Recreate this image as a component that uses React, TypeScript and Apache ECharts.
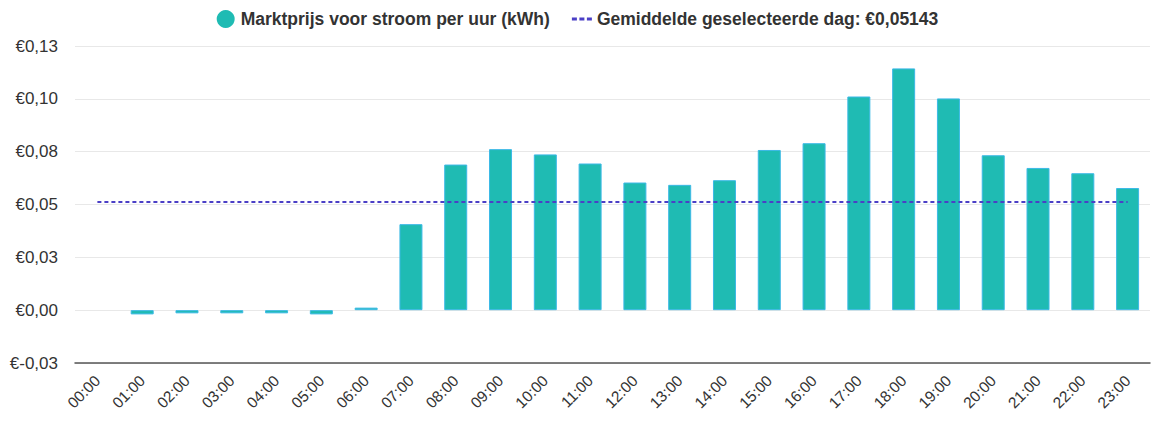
import React, { useEffect, useRef } from "react";
import * as echarts from "echarts";

const CATEGORIES = [
  "00:00", "01:00", "02:00", "03:00", "04:00", "05:00", "06:00", "07:00",
  "08:00", "09:00", "10:00", "11:00", "12:00", "13:00", "14:00", "15:00",
  "16:00", "17:00", "18:00", "19:00", "20:00", "21:00", "22:00", "23:00",
];

const PRICES = [
  0, -0.002, -0.0015, -0.0015, -0.0015, -0.002, 0.0012, 0.0407,
  0.0689, 0.0762, 0.0737, 0.0694, 0.0604, 0.0593, 0.0615, 0.0758,
  0.079, 0.1011, 0.1144, 0.1002, 0.0733, 0.0673, 0.0648, 0.0578,
];

const AVERAGE = 0.05143;

const BAR_NAME = "Marktprijs voor stroom per uur (kWh)";
const AVG_NAME = "Gemiddelde geselecteerde dag: €0,05143";

function euro(v: number): string {
  const neg = v < -1e-9;
  const a = Math.abs(v);
  const r = Math.round(a * 100 + 1e-6) / 100;
  return "€" + (neg ? "-" : "") + r.toFixed(2).replace(".", ",");
}

export default function App() {
  const ref = useRef<HTMLDivElement>(null);
  useEffect(() => {
    document.body.style.margin = "0";
    if (!ref.current) return;
    const chart = echarts.init(ref.current, null, { renderer: "svg" });
    const font = "Arial, 'Liberation Sans', sans-serif";
    const barData = PRICES.map((v) =>
      v === 0 ? { value: v, itemStyle: { borderWidth: 0 } } : v
    );
    chart.setOption({
      animation: false,
      textStyle: { fontFamily: font },
      legend: {
        top: 5,
        left: "center",
        itemGap: 22,
        itemWidth: 20,
        itemHeight: 18,
        textStyle: { fontSize: 17.5, fontWeight: "bold", color: "#333", fontFamily: font },
        data: [
          { name: BAR_NAME, icon: "circle", itemStyle: { color: "#1fbbb3", borderWidth: 0 } },
          {
            name: AVG_NAME,
            icon: "path://M0,0h4v2.4h-4z M6,0h4v2.4h-4z M12,0h4v2.4h-4z",
            itemStyle: { color: "#4b3fc6", borderWidth: 0 },
          },
        ],
      },
      grid: { left: 75, right: 5, top: 46, bottom: 58, containLabel: false },
      xAxis: {
        type: "category",
        data: CATEGORIES,
        axisTick: { show: false },
        axisLine: { show: true, onZero: false, lineStyle: { color: "#555", width: 1.5 } },
        axisLabel: {
          rotate: 45,
          fontSize: 15.5,
          color: "#333",
          margin: 15,
          interval: 0,
          fontFamily: font,
        },
      },
      yAxis: {
        type: "value",
        min: -0.025,
        max: 0.125,
        interval: 0.025,
        axisLine: { show: false },
        axisTick: { show: false },
        splitLine: { lineStyle: { color: "#e8e8e8", width: 1 } },
        axisLabel: {
          fontSize: 17,
          color: "#333",
          margin: 17,
          fontFamily: font,
          formatter: (v: number) => euro(v),
        },
      },
      series: [
        {
          name: BAR_NAME,
          type: "bar",
          data: barData,
          barWidth: 23,
          itemStyle: { color: "#1fbbb3", borderColor: "#3cb9e6", borderWidth: 1 },
        },
        {
          name: AVG_NAME,
          type: "line",
          data: [],
          symbol: "none",
          color: "#4b3fc6",
          lineStyle: { color: "#4b3fc6", type: [4, 3], width: 2 },
          markLine: {
            silent: true,
            symbol: "none",
            label: { show: false },
            lineStyle: { color: "#4b3fc6", type: [4, 3], width: 2 },
            data: [
              [
                { coord: [CATEGORIES[0], AVERAGE] },
                { coord: [CATEGORIES[CATEGORIES.length - 1], AVERAGE] },
              ],
            ],
          },
        },
      ],
    });
    return () => chart.dispose();
  }, []);
  return <div ref={ref} style={{ width: 1155, height: 421 }} />;
}
